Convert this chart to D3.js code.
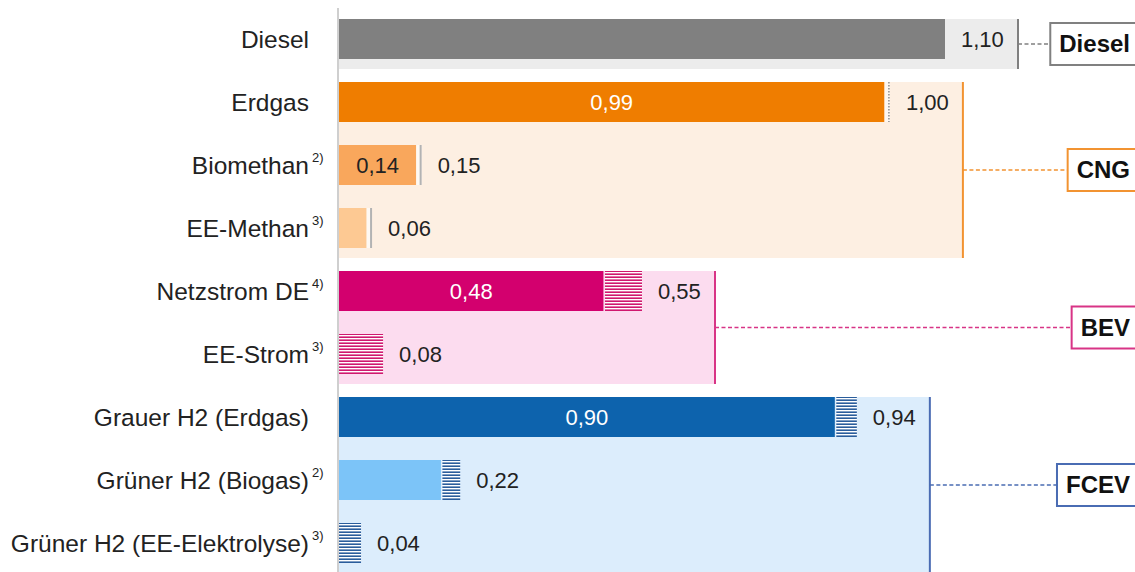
<!DOCTYPE html>
<html>
<head>
<meta charset="utf-8">
<script src="https://cdn.jsdelivr.net/npm/d3@7"></script>
<style>
  html, body { margin: 0; padding: 0; background: #fff; }
  svg { display: block; font-family: "Liberation Sans", Arial, sans-serif; }
</style>
</head>
<body>
<svg id="chart" width="1135" height="572"></svg>
<script>
// Energy pathways (rows) and their footnote markers
const categories = ["Diesel", "Erdgas", "Biomethan", "EE-Methan", "Netzstrom DE", "EE-Strom",
                    "Grauer H2 (Erdgas)", "Grüner H2 (Biogas)", "Grüner H2 (EE-Elektrolyse)"];
const footnotes  = ["", "", "2)", "3)", "4)", "3)", "", "2)", "3)"];
// Drive technology each row belongs to
const groups     = ["Diesel", "CNG", "CNG", "CNG", "BEV", "BEV", "FCEV", "FCEV", "FCEV"];
const groupNames = ["Diesel", "CNG", "BEV", "FCEV"];
// Solid base segment and total value per row
const baseValues  = [1.10, 0.99, 0.14, 0.05, 0.48, 0.00, 0.90, 0.185, 0.00];
const totalValues = [1.10, 1.00, 0.15, 0.06, 0.55, 0.08, 0.94, 0.22, 0.04];
// Values printed inside the base segment (null = none)
const baseLabels  = [null, 0.99, 0.14, null, 0.48, null, 0.90, null, null];
// How the part between base and total is drawn
const extraStyle  = ["none", "dotted", "line", "line", "hatch", "hatch", "hatch", "hatch", "hatch"];

const barColors = ["#808080", "#ef7d00", "#f9a75c", "#fdc993", "#d3006e", "#d3006e", "#0d63ad", "#7cc4f8", "#7cc4f8"];
const groupStyle = {
  Diesel: { panel: "#ececec", line: "#808080", hatch: "#808080" },
  CNG:    { panel: "#fdefe2", line: "#f29331", hatch: "#f29331" },
  BEV:    { panel: "#fcdcef", line: "#d83486", hatch: "#d0186f" },
  FCEV:   { panel: "#dcedfc", line: "#4a6cb3", hatch: "#2a5d9c" }
};

const W = 1135, H = 572;
const svg = d3.select("#chart");
const fmt = d3.formatLocale({ decimal: ",", thousands: ".", grouping: [3], currency: ["", "€"] }).format(".2f");

const x = d3.scaleLinear().domain([0, 1.10]).range([339, 945]);
const y = d3.scaleBand().domain(categories).range([19, 563]).paddingInner(23 / 63).paddingOuter(0);
const bw = y.bandwidth();

// Hatch patterns (horizontal stripes)
const defs = svg.append("defs");
["BEV", "FCEV"].forEach(g => {
  const p = defs.append("pattern").attr("id", "hatch-" + g)
    .attr("patternUnits", "userSpaceOnUse").attr("width", 6).attr("height", 3);
  p.append("rect").attr("width", 6).attr("height", 3).attr("fill", "#ffffff");
  p.append("rect").attr("y", 0.4).attr("width", 6).attr("height", 1.6).attr("fill", groupStyle[g].hatch);
});

// Group panels
const panels = groupNames.map(g => {
  const idx = categories.map((c, i) => i).filter(i => groups[i] === g);
  const top = y(categories[idx[0]]);
  const bottom = y(categories[idx[idx.length - 1]]) + bw + 10;
  const right = x(d3.max(idx, i => totalValues[i])) + 73;
  return { g, top, bottom, right, mid: (top + bottom) / 2 };
});

svg.append("g").selectAll("rect").data(panels).join("rect")
  .attr("x", x(0)).attr("y", d => d.top)
  .attr("width", d => d.right - x(0)).attr("height", d => d.bottom - d.top)
  .attr("fill", d => groupStyle[d.g].panel);

svg.append("g").selectAll("line").data(panels).join("line")
  .attr("x1", d => d.right).attr("x2", d => d.right)
  .attr("y1", d => d.top).attr("y2", d => d.bottom)
  .attr("stroke", d => groupStyle[d.g].line).attr("stroke-width", 2);

// Left axis line
svg.append("line").attr("x1", 338).attr("x2", 338).attr("y1", 8).attr("y2", H)
  .attr("stroke", "#cfcfcf").attr("stroke-width", 2);

// Base bars
const rows = categories.map((c, i) => ({ c, i }));
svg.append("g").selectAll("rect").data(rows.filter(d => baseValues[d.i] > 0)).join("rect")
  .attr("x", x(0)).attr("y", d => y(d.c))
  .attr("width", d => x(baseValues[d.i]) - x(0)).attr("height", bw)
  .attr("fill", d => barColors[d.i]);

// Extensions between base and total
const ext = svg.append("g");
rows.forEach(d => {
  const i = d.i, st = extraStyle[i];
  const x0 = x(baseValues[i]), x1 = x(totalValues[i]);
  if (st === "hatch") {
    ext.append("rect").attr("x", x0 + (baseValues[i] > 0 ? 1.5 : 0)).attr("y", y(d.c))
      .attr("width", x1 - x0 - (baseValues[i] > 0 ? 1.5 : 0)).attr("height", bw)
      .attr("fill", "url(#hatch-" + groups[i] + ")");
  } else if (st === "dotted") {
    ext.append("rect").attr("x", x0).attr("y", y(d.c)).attr("width", x1 - x0).attr("height", bw)
      .attr("fill", "#ffffff").attr("opacity", 0.5);
    ext.append("line").attr("x1", x1 - 1).attr("x2", x1 - 1).attr("y1", y(d.c)).attr("y2", y(d.c) + bw)
      .attr("stroke", "#8c8c8c").attr("stroke-width", 1.5).attr("stroke-dasharray", "1.5,1.5");
  } else if (st === "line") {
    ext.append("rect").attr("x", x0).attr("y", y(d.c)).attr("width", x1 - x0).attr("height", bw)
      .attr("fill", "#ffffff").attr("opacity", 0.6);
    ext.append("line").attr("x1", x1 - 1).attr("x2", x1 - 1).attr("y1", y(d.c)).attr("y2", y(d.c) + bw)
      .attr("stroke", "#b3b3b3").attr("stroke-width", 2);
  }
});

// Category labels with superscript footnotes
const lab = svg.append("g").attr("fill", "#222222");
lab.selectAll("text.cat").data(rows).join("text").attr("class", "cat")
  .attr("x", 309).attr("y", d => y(d.c) + bw / 2).attr("dy", "0.35em")
  .attr("text-anchor", "end").attr("font-size", 24.5).text(d => d.c);
lab.selectAll("text.sup").data(rows.filter(d => footnotes[d.i])).join("text").attr("class", "sup")
  .attr("x", 312).attr("y", d => y(d.c) + bw / 2 - 3)
  .attr("font-size", 13).text(d => footnotes[d.i]);

// Values inside base bars
svg.append("g").selectAll("text").data(rows.filter(d => baseLabels[d.i] !== null)).join("text")
  .attr("x", d => (x(0) + x(baseValues[d.i])) / 2).attr("y", d => y(d.c) + bw / 2).attr("dy", "0.35em")
  .attr("text-anchor", "middle").attr("font-size", 22)
  .attr("fill", d => d3.hsl(barColors[d.i]).l < 0.55 || d.i === 1 ? "#ffffff" : "#222222")
  .text(d => fmt(baseLabels[d.i]));

// Total values
svg.append("g").selectAll("text").data(rows).join("text")
  .attr("x", d => x(totalValues[d.i]) + 16).attr("y", d => y(d.c) + bw / 2).attr("dy", "0.35em")
  .attr("font-size", 22).attr("fill", "#222222")
  .text(d => fmt(totalValues[d.i]));

// Group connectors and name boxes
const boxes = svg.append("g");
panels.forEach(p => {
  const col = groupStyle[p.g].line;
  const t = boxes.append("text").attr("x", 1130).attr("y", p.mid).attr("dy", "0.35em")
    .attr("text-anchor", "end").attr("font-size", 24).attr("font-weight", "bold")
    .attr("fill", "#111").text(p.g);
  const tw = t.node().getComputedTextLength();
  const bx = 1130 - tw - 9;
  boxes.insert("line", "text").attr("x1", p.right).attr("x2", bx).attr("y1", p.mid).attr("y2", p.mid)
    .attr("stroke", col).attr("stroke-width", 1.5).attr("stroke-dasharray", "4,2.5");
  boxes.insert("rect", "text").attr("x", bx).attr("y", p.mid - 21).attr("width", W + 10 - bx).attr("height", 42)
    .attr("fill", "#ffffff").attr("stroke", col).attr("stroke-width", 2);
});
</script>
</body>
</html>
